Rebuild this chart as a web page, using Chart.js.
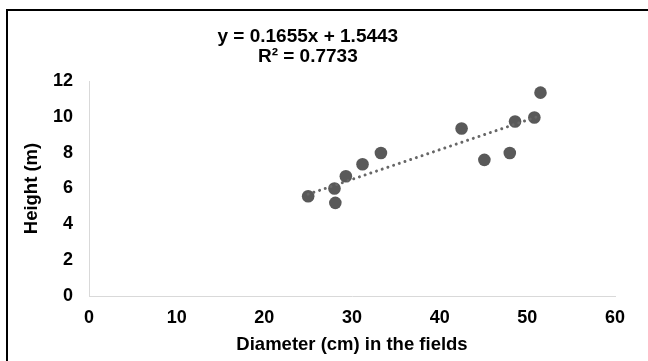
<!DOCTYPE html>
<html>
<head>
<meta charset="utf-8">
<script src="https://cdn.jsdelivr.net/npm/chart.js@4/dist/chart.umd.min.js"></script>
<style>
html,body{margin:0;padding:0;background:#fff;}
#wrap{width:648px;height:361px;position:relative;}
</style>
</head>
<body>
<div id="wrap"><canvas id="c" width="648" height="361"></canvas></div>
<script>
// ---- data ----
const diameterCm = [25.0, 28.0, 28.1, 29.3, 31.2, 33.3, 42.5, 45.1, 48.0, 48.6, 50.8, 51.5];
const heightM    = [5.57, 6.0, 5.2, 6.68, 7.35, 7.98, 9.35, 7.6, 7.98, 9.74, 9.96, 11.35];
const xTicks = [0, 10, 20, 30, 40, 50, 60];
const yTicks = [0, 2, 4, 6, 8, 10, 12];
const trendSlope = 0.1655;
const trendIntercept = 1.5443;
const rSquared = 0.7733;
const xTitle = 'Diameter (cm) in the fields';
const yTitle = 'Height (m)';

const FONT = "'Liberation Sans', Arial, sans-serif";
const points = diameterCm.map((x, i) => ({x: x, y: heightM[i]}));
const xMin = Math.min(...diameterCm), xMax = Math.max(...diameterCm);
const trend = [xMin, xMax].map(x => ({x: x, y: trendSlope * x + trendIntercept}));

const framePlugin = {
  id: 'frame',
  afterDraw(chart) {
    const ctx = chart.ctx;
    ctx.save();
    ctx.strokeStyle = '#000';
    ctx.lineWidth = 2;
    ctx.beginPath();
    ctx.moveTo(7, 361);
    ctx.lineTo(7, 10);
    ctx.lineTo(648, 10);
    ctx.stroke();
    // equation label
    const a = chart.chartArea;
    const cx = a.left + (a.right - a.left) * 0.416;
    ctx.fillStyle = '#000';
    ctx.font = 'bold 19px ' + FONT;
    ctx.textAlign = 'center';
    ctx.textBaseline = 'middle';
    ctx.fillText('y = ' + trendSlope.toFixed(4) + 'x + ' + trendIntercept.toFixed(4), cx, a.top - 44);
    ctx.fillText('R\u00B2 = ' + rSquared.toFixed(4), cx, a.top - 24);
    ctx.restore();
  }
};

new Chart(document.getElementById('c'), {
  type: 'scatter',
  data: {
    datasets: [
      {
        type: 'line',
        data: trend,
        borderColor: '#676767',
        borderWidth: 3,
        borderDash: [0.01, 6],
        borderCapStyle: 'round',
        pointRadius: 0,
        fill: false
      },
      {
        data: points,
        backgroundColor: '#595959',
        borderColor: '#595959',
        borderWidth: 0,
        pointRadius: 6.3,
        pointHoverRadius: 6.3
      }
    ]
  },
  options: {
    responsive: false,
    animation: false,
    devicePixelRatio: 1,
    layout: {padding: {top: 81, right: 33, bottom: 0, left: 0}},
    plugins: {legend: {display: false}, tooltip: {enabled: false}, title: {display: false}},
    scales: {
      x: {
        type: 'linear',
        min: xTicks[0], max: xTicks[xTicks.length - 1],
        afterBuildTicks: s => { s.ticks = xTicks.map(v => ({value: v})); },
        grid: {display: false, drawTicks: false},
        border: {display: true, color: '#d9d9d9', width: 1},
        ticks: {color: '#000', font: {family: FONT, size: 18, weight: 'bold'}, padding: 11, maxRotation: 0},
        title: {display: true, text: xTitle, color: '#000', font: {family: FONT, size: 18.5, weight: 'bold'}, padding: {top: 0, bottom: 5}},
        afterFit: s => { s.height = 65; }
      },
      y: {
        type: 'linear',
        min: yTicks[0], max: yTicks[yTicks.length - 1],
        afterBuildTicks: s => { s.ticks = yTicks.map(v => ({value: v})); },
        grid: {display: false, drawTicks: false},
        border: {display: true, color: '#d9d9d9', width: 1},
        ticks: {color: '#000', font: {family: FONT, size: 18, weight: 'bold'}, padding: 16},
        title: {display: true, text: yTitle, color: '#000', font: {family: FONT, size: 18.5, weight: 'bold'}, padding: {top: 21, bottom: 0}},
        afterFit: s => { s.width = 89; }
      }
    }
  },
  plugins: [framePlugin]
});
</script>
</body>
</html>
